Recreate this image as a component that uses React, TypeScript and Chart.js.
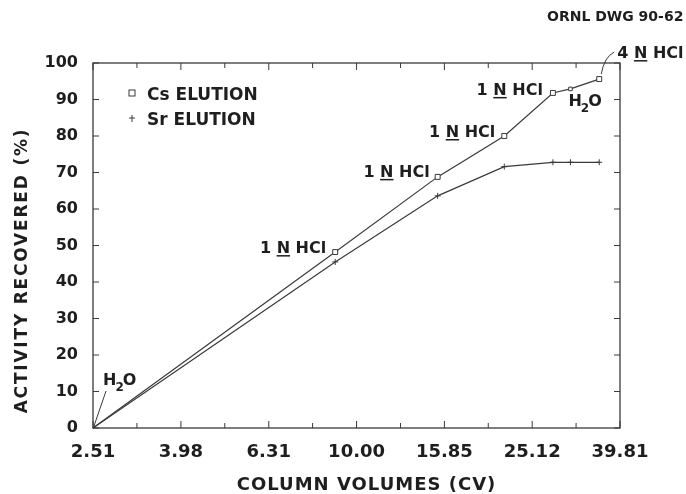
import React, { useEffect, useRef } from "react";
import { Chart, registerables } from "chart.js";

Chart.register(...registerables);

// ---- data ----
const columnVolumes = [2.51, 8.94, 15.3, 21.7, 28.0, 30.7, 35.7];
const csRecovered = [0, 48.2, 68.8, 80.0, 91.8, 92.9, 95.6];
const srRecovered = [0, 45.5, 63.6, 71.6, 72.8, 72.8, 72.8];

const xTickValues = [2.51, 3.16, 3.98, 5.01, 6.31, 7.94, 10.0, 12.59, 15.85, 19.95, 25.12, 31.62, 39.81];
const xTickLabels = ["2.51", "", "3.98", "", "6.31", "", "10.00", "", "15.85", "", "25.12", "", "39.81"];
const yTickValues = [0, 10, 20, 30, 40, 50, 60, 70, 80, 90, 100];

const seriesNames = ["Cs ELUTION", "Sr ELUTION"];
const xTitle = "COLUMN VOLUMES (CV)";
const yTitle = "ACTIVITY RECOVERED (%)";
const drawingId = "ORNL DWG 90-62";

// annotation texts, tied to Cs points by index
const annotationTexts = [
  { index: 0, kind: "h2o" },
  { index: 1, kind: "hcl", text: "1" },
  { index: 2, kind: "hcl", text: "1" },
  { index: 3, kind: "hcl", text: "1" },
  { index: 4, kind: "hcl", text: "1" },
  { index: 5, kind: "h2o" },
  { index: 6, kind: "hcl", text: "4" },
];

// ---- styles / placement (pixels) ----
const INK = "#1e1e1e";
const LINE = "#3a3a3a";
const FONT = "'DejaVu Sans', sans-serif";
const annotationOffsets: Record<number, { dx: number; dy: number; align: "left" | "right" }> = {
  0: { dx: 10, dy: -43, align: "left" },
  1: { dx: -9, dy: 1, align: "right" },
  2: { dx: -8, dy: 0, align: "right" },
  3: { dx: -9, dy: 1, align: "right" },
  4: { dx: -10, dy: 2, align: "right" },
  5: { dx: -2, dy: 17, align: "left" },
  6: { dx: 18, dy: -21, align: "left" },
};

function drawH2O(ctx: CanvasRenderingContext2D, x: number, y: number) {
  ctx.font = `bold 16px ${FONT}`;
  ctx.textAlign = "left";
  ctx.textBaseline = "alphabetic";
  ctx.fillText("H", x, y);
  const wH = ctx.measureText("H").width;
  ctx.font = `bold 12px ${FONT}`;
  ctx.fillText("2", x + wH - 1, y + 6);
  const w2 = ctx.measureText("2").width;
  ctx.font = `bold 16px ${FONT}`;
  ctx.fillText("O", x + wH + w2 - 2, y);
}

function drawHCl(ctx: CanvasRenderingContext2D, num: string, x: number, y: number, align: "left" | "right") {
  ctx.font = `bold 16px ${FONT}`;
  ctx.textAlign = "left";
  ctx.textBaseline = "alphabetic";
  const a = num + " ";
  const n = "N";
  const b = " HCl";
  const wa = ctx.measureText(a).width;
  const wn = ctx.measureText(n).width;
  const wb = ctx.measureText(b).width;
  const total = wa + wn + wb;
  const x0 = align === "right" ? x - total : x;
  ctx.fillText(a, x0, y);
  ctx.fillText(n, x0 + wa, y);
  ctx.fillText(b, x0 + wa + wn, y);
  ctx.fillRect(x0 + wa, y + 2, wn, 1.5);
}

const decorPlugin = {
  id: "decor",
  afterDraw(chart: any) {
    const { ctx, chartArea, scales } = chart;
    const xs = scales.x;
    const ys = scales.y;
    const { left, right, top, bottom } = chartArea;
    ctx.save();
    // frame
    ctx.strokeStyle = LINE;
    ctx.lineWidth = 1.3;
    ctx.strokeRect(left, top, right - left, bottom - top);
    // inward ticks
    ctx.lineWidth = 1;
    ctx.beginPath();
    xTickValues.forEach((v, i) => {
      const px = xs.getPixelForValue(v);
      const len = xTickLabels[i] ? 7 : 5;
      ctx.moveTo(px, bottom);
      ctx.lineTo(px, bottom - len);
      ctx.moveTo(px, top);
      ctx.lineTo(px, top + len);
    });
    yTickValues.forEach((v) => {
      const py = ys.getPixelForValue(v);
      ctx.moveTo(left, py);
      ctx.lineTo(left + 6, py);
      ctx.moveTo(right, py);
      ctx.lineTo(right - 6, py);
    });
    ctx.stroke();

    // axis titles
    ctx.fillStyle = INK;
    (ctx as any).letterSpacing = "1px";
    ctx.font = `bold 18px ${FONT}`;
    ctx.textAlign = "center";
    ctx.textBaseline = "alphabetic";
    ctx.fillText(xTitle, (left + right) / 2 + 10, 490);
    ctx.save();
    ctx.translate(27, (top + bottom) / 2 + 25);
    ctx.rotate(-Math.PI / 2);
    (ctx as any).letterSpacing = "1.8px";
    ctx.font = `bold 17px ${FONT}`;
    ctx.fillText(yTitle, 0, 0);
    ctx.restore();
    (ctx as any).letterSpacing = "0px";

    // drawing id
    ctx.font = `bold 14px ${FONT}`;
    ctx.textAlign = "left";
    ctx.fillText(drawingId, 547, 21);

    // legend
    const lx = left + 39;
    ctx.strokeStyle = LINE;
    ctx.fillStyle = "#fff";
    ctx.lineWidth = 1;
    ctx.fillRect(lx - 3, top + 27, 6, 6);
    ctx.strokeRect(lx - 3, top + 27, 6, 6);
    ctx.beginPath();
    ctx.moveTo(lx - 3, top + 55);
    ctx.lineTo(lx + 3, top + 55);
    ctx.moveTo(lx, top + 52);
    ctx.lineTo(lx, top + 59);
    ctx.stroke();
    ctx.fillStyle = INK;
    ctx.font = `bold 17px ${FONT}`;
    ctx.fillText(seriesNames[0], left + 54, top + 37);
    ctx.fillText(seriesNames[1], left + 54, top + 62);

    // annotations
    annotationTexts.forEach((a) => {
      const px = xs.getPixelForValue(columnVolumes[a.index]);
      const py = ys.getPixelForValue(csRecovered[a.index]);
      const o = annotationOffsets[a.index];
      ctx.fillStyle = INK;
      if (a.kind === "h2o") drawH2O(ctx, px + o.dx, py + o.dy);
      else drawHCl(ctx, a.text as string, px + o.dx, py + o.dy, o.align);
    });

    // leader lines
    ctx.strokeStyle = LINE;
    ctx.lineWidth = 1;
    const ox = xs.getPixelForValue(columnVolumes[0]);
    const oy = ys.getPixelForValue(csRecovered[0]);
    ctx.beginPath();
    ctx.moveTo(ox + 13, oy - 37);
    ctx.lineTo(ox + 1, oy - 2);
    ctx.stroke();
    const ex = xs.getPixelForValue(columnVolumes[6]);
    const ey = ys.getPixelForValue(csRecovered[6]);
    ctx.beginPath();
    ctx.moveTo(ex + 15, ey - 27);
    ctx.quadraticCurveTo(ex + 5, ey - 22, ex + 2, ey - 5);
    ctx.stroke();
    ctx.restore();
  },
};

export default function App() {
  const ref = useRef<HTMLCanvasElement | null>(null);
  useEffect(() => {
    document.body.style.margin = "0";
    const canvas = ref.current;
    if (!canvas) return;
    const chart = new Chart(canvas, {
      type: "line",
      data: {
        datasets: [
          {
            label: seriesNames[0],
            data: columnVolumes.map((x, i) => ({ x, y: csRecovered[i] })),
            borderColor: LINE,
            borderWidth: 1.2,
            backgroundColor: "#ffffff",
            pointStyle: "rect",
            pointRadius: columnVolumes.map((_, i) => (i === 0 ? 0 : i === 5 ? 2.5 : 3.5)),
            pointBorderWidth: 1,
            pointBorderColor: LINE,
            pointBackgroundColor: "#ffffff",
            tension: 0,
            clip: false as any,
          },
          {
            label: seriesNames[1],
            data: columnVolumes.map((x, i) => ({ x, y: srRecovered[i] })),
            borderColor: LINE,
            borderWidth: 1.2,
            backgroundColor: LINE,
            pointStyle: "cross",
            pointRadius: columnVolumes.map((_, i) => (i === 0 ? 0 : 3)),
            pointBorderWidth: 1,
            pointBorderColor: LINE,
            tension: 0,
            clip: false as any,
          },
        ],
      },
      options: {
        animation: false,
        responsive: false,
        layout: { padding: { left: 0, right: 66, top: 63, bottom: 0 } },
        plugins: { legend: { display: false }, tooltip: { enabled: false } },
        scales: {
          x: {
            type: "logarithmic",
            min: 2.51,
            max: 39.81,
            afterBuildTicks: (s: any) => {
              s.ticks = xTickValues.map((v) => ({ value: v }));
            },
            afterFit: (s: any) => {
              s.height = 66;
            },
            grid: { display: false },
            border: { display: false },
            ticks: {
              autoSkip: false,
              maxRotation: 0,
              padding: 6,
              color: INK,
              font: { family: FONT, size: 18, weight: "bold" },
              callback: (_v: any, i: number) => xTickLabels[i],
            },
          },
          y: {
            type: "linear",
            min: 0,
            max: 100,
            afterBuildTicks: (s: any) => {
              s.ticks = yTickValues.map((v) => ({ value: v }));
            },
            afterFit: (s: any) => {
              s.width = 93;
            },
            grid: { display: false },
            border: { display: false },
            ticks: {
              padding: 7,
              color: INK,
              font: { family: FONT, size: 16, weight: "bold" },
            },
          },
        },
      } as any,
      plugins: [decorPlugin],
    });
    return () => chart.destroy();
  }, []);
  return (
    <div style={{ position: "absolute", left: 0, top: 0, width: 686, height: 494, background: "#fff" }}>
      <canvas ref={ref} width={686} height={494} style={{ width: 686, height: 494, display: "block" }} />
    </div>
  );
}
